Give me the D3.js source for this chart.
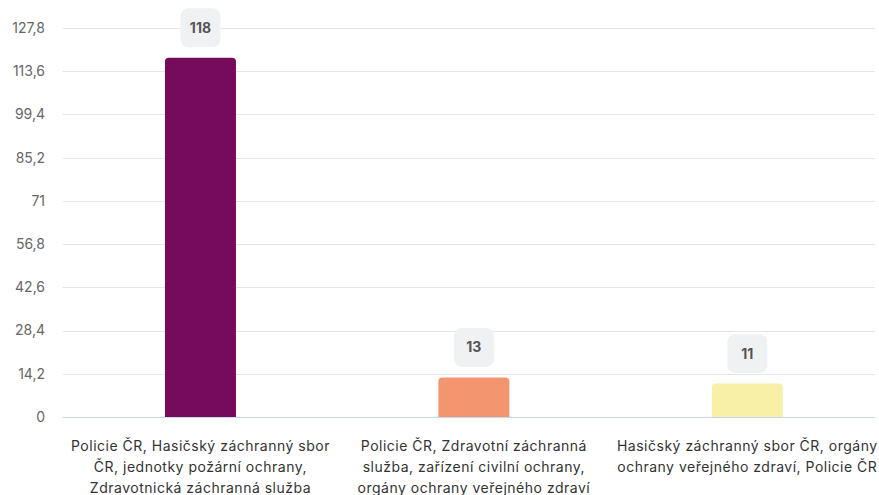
<!DOCTYPE html>
<html><head><meta charset="utf-8">
<script src="https://cdn.jsdelivr.net/npm/d3@7/dist/d3.min.js"></script>
<style>html,body{margin:0;padding:0;background:#fff;overflow:hidden}svg{display:block;font-family:Inter,"Noto Sans",sans-serif}</style>
</head><body>
<svg id="c" width="900" height="495"></svg>
<script>
const categories = [
  "Policie ČR, Hasičský záchranný sbor\nČR, jednotky požární ochrany,\nZdravotnická záchranná služba",
  "Policie ČR, Zdravotní záchranná\nslužba, zařízení civilní ochrany,\norgány ochrany veřejného zdraví",
  "Hasičský záchranný sbor ČR, orgány\nochrany veřejného zdraví, Policie ČR"
];
const values = [118, 13, 11];
const colors = ["#770b5b", "#f39670", "#f8f0a6"];
const yTicks = [0, 14.2, 28.4, 42.6, 56.8, 71, 85.2, 99.4, 113.6, 127.8];

(function () {
const svg = d3.select("#c");
const pLeft = 63.75, pRight = 884, pTop = 28, pBottom = 417, gridRight = 875;
const x = d3.scaleBand().domain(categories).range([pLeft, pRight]).paddingInner(0).paddingOuter(0);
const y = d3.scaleLinear().domain([0, 127.8]).range([pBottom, pTop]);
const fmt = v => String(v).replace(".", ",");

// grid
svg.append("g").selectAll("line").data(yTicks.filter(t => t > 0)).join("line")
  .attr("x1", pLeft - 1).attr("x2", gridRight)
  .attr("y1", d => Math.round(y(d)) + 0.5).attr("y2", d => Math.round(y(d)) + 0.5)
  .attr("stroke", "#e6e6e6").attr("stroke-width", 1);

// y labels
svg.append("g").selectAll("text").data(yTicks).join("text")
  .attr("x", 45).attr("y", d => y(d)).attr("dy", "0.35em")
  .attr("text-anchor", "end").attr("font-size", 14).attr("fill", "#666")
  .text(fmt);

// bars
const bw = 71, r = 4;
function barPath(cx, yt, yb, w, r) {
  const x0 = cx - w / 2, x1 = cx + w / 2;
  return `M${x0},${yb}V${yt + r}Q${x0},${yt} ${x0 + r},${yt}H${x1 - r}Q${x1},${yt} ${x1},${yt + r}V${yb}Z`;
}
svg.append("g").selectAll("path").data(values).join("path")
  .attr("d", (d, i) => barPath(x(categories[i]) + x.bandwidth() / 2, y(d), y(0), bw, r))
  .attr("fill", (d, i) => colors[i]);

// baseline
svg.append("line").attr("x1", pLeft - 1).attr("x2", gridRight)
  .attr("y1", Math.round(y(0)) + 0.5).attr("y2", Math.round(y(0)) + 0.5)
  .attr("stroke", "#ccd6eb").attr("stroke-width", 1);

// data labels
const lg = svg.append("g");
values.forEach((v, i) => {
  const cx = x(categories[i]) + x.bandwidth() / 2;
  const g = lg.append("g");
  const t = g.append("text").attr("x", cx).attr("text-anchor", "middle")
    .attr("font-size", 14).attr("font-weight", 700).attr("fill", "#555").text(v);
  const w = Math.max(40, t.node().getComputedTextLength() + 18);
  const h = 39;
  const yb = y(v) - 10.5;
  g.insert("rect", "text").attr("x", cx - w / 2).attr("y", yb - h).attr("width", w).attr("height", h)
    .attr("rx", 8).attr("fill", "#f0f1f2");
  t.attr("y", yb - h / 2).attr("dy", "0.36em");
});

// category labels
const cg = svg.append("g");
categories.forEach((c, i) => {
  const cx = x(c) + x.bandwidth() / 2;
  const t = cg.append("text").attr("text-anchor", "middle").attr("font-size", 14)
    .attr("letter-spacing", 0.5).attr("fill", "#333");
  c.split("\n").forEach((line, j) => {
    t.append("tspan").attr("x", cx).attr("y", 451 + j * 21).text(line);
  });
});
})();
</script>
</body></html>
